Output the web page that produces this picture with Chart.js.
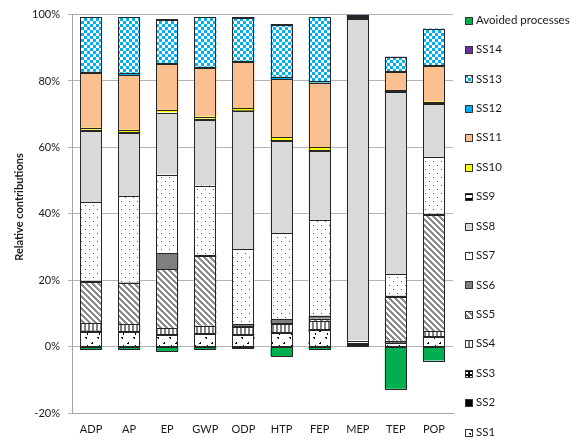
<!DOCTYPE html>
<html>
<head>
<meta charset="utf-8">
<script src="https://cdn.jsdelivr.net/npm/chart.js@4"></script>
<style>
html,body{margin:0;padding:0;background:#fff;}
canvas{display:block;}
</style>
</head>
<body>
<canvas id="c" width="581" height="441"></canvas>
<script>
const categories = ['ADP','AP','EP','GWP','ODP','HTP','FEP','MEP','TEP','POP'];
const yTicks = [-20, 0, 20, 40, 60, 80, 100];

const SS1  = [4.5, 4.5, 3.5, 3.9, 3.5, 4.2, 5.0, 0.6, 1.0, 2.8];
const SS2  = [0.2, 0.1, 0.1, 0.1, 0.1, 0.1, 0.1, 0.1, 0.1, 0.1];
const SS3  = [0.1, 0.1, 0.1, 0.1, 0.1, 0.1, 0.2, 0.0, 0.1, 0.2];
const SS4  = [2.2, 2.1, 1.8, 2.2, 2.3, 2.4, 2.3, 0.2, 0.6, 1.5];
const SS5  = [12.6, 12.3, 17.8, 20.9, 0.1, 0.2, 0.8, 0.1, 13.2, 35.1];
const SS6  = [0.2, 0.2, 4.8, 0.3, 0.7, 1.2, 0.9, 0.0, 0.3, 0.3];
const SS7  = [23.7, 26.0, 23.7, 21.0, 22.5, 25.9, 28.7, 0.8, 6.5, 17.0];
const SS8  = [21.5, 19.1, 18.5, 19.8, 41.6, 27.8, 20.8, 96.8, 54.8, 16.1];
const SS9  = [0.3, 0.2, 0.2, 0.3, 0.2, 0.3, 0.3, 0.2, 0.5, 0.2];
const SS10 = [0.6, 0.7, 0.8, 0.7, 0.7, 0.8, 1.0, 0.1, 0.2, 0.5];
const SS11 = [16.4, 16.5, 13.7, 14.5, 13.8, 17.6, 19.4, 0.4, 5.5, 10.7];
const SS12 = [0.5, 0.7, 0.5, 0.5, 0.5, 0.7, 0.4, 0.3, 0.2, 0.3];
const SS13 = [16.4, 16.7, 13.0, 14.9, 12.9, 15.7, 19.3, 0.3, 4.2, 11.0];
const SS14 = [0.1, 0.1, 0.1, 0.1, 0.3, 0.1, 0.1, 0.1, 0.1, 0.0];
const Avoided = [-0.8, -0.8, -1.4, -0.7, -0.5, -2.8, -0.8, 0, -12.7, -4.2];

const canvas = document.getElementById('c');
const mainCtx = canvas.getContext('2d');

function makePattern(w, h, draw) {
  const t = document.createElement('canvas');
  t.width = w; t.height = h;
  const x = t.getContext('2d');
  x.fillStyle = '#ffffff';
  x.fillRect(0, 0, w, h);
  draw(x, w, h);
  return mainCtx.createPattern(t, 'repeat');
}

const pConfetti = makePattern(12, 12, (x) => {
  x.fillStyle = '#000';
  x.fillRect(1, 1, 2, 1); x.fillRect(2, 2, 1, 1);
  x.fillRect(8, 6, 1, 1); x.fillRect(7, 7, 2, 1);
  x.fillRect(3, 9, 1, 2);
});
const pSS3 = makePattern(4, 4, (x) => {
  x.fillStyle = '#000';
  x.fillRect(0, 0, 4, 4);
  x.fillStyle = '#fff';
  x.fillRect(2, 0, 2, 2);
});
const pVert = makePattern(4, 1, (x) => {
  x.fillStyle = '#808080';
  x.fillRect(0, 0, 2, 1);
});
const pDiag = makePattern(6, 6, (x) => {
  x.fillStyle = '#8c8c8c';
  for (let i = 0; i < 6; i++) for (let j = 0; j < 6; j++) {
    if (((i - j + 60) % 6) < 3) x.fillRect(i, j, 1, 1);
  }
});
const pDots = makePattern(8, 8, (x) => {
  x.fillStyle = '#555';
  x.fillRect(1, 1, 1, 1);
  x.fillRect(5, 5, 1, 1);
});
const pHalf = makePattern(8, 6, (x) => {
  x.fillStyle = '#000';
  x.fillRect(0, 0, 8, 3);
});
const pChecker = makePattern(6, 6, (x) => {
  x.fillStyle = '#00b0f0';
  x.fillRect(0, 0, 3, 3);
  x.fillRect(3, 3, 3, 3);
});

const seriesDefs = [
  ['SS1', SS1, pConfetti],
  ['SS2', SS2, '#000000'],
  ['SS3', SS3, pSS3],
  ['SS4', SS4, pVert],
  ['SS5', SS5, pDiag],
  ['SS6', SS6, '#7f7f7f'],
  ['SS7', SS7, pDots],
  ['SS8', SS8, '#d9d9d9'],
  ['SS9', SS9, pHalf],
  ['SS10', SS10, '#ffff00'],
  ['SS11', SS11, '#fac090'],
  ['SS12', SS12, '#00b0f0'],
  ['SS13', SS13, pChecker],
  ['SS14', SS14, '#7030a0'],
  ['Avoided processes', Avoided, '#00b050']
];

const datasets = seriesDefs.map(([label, data, fill]) => ({
  label: label,
  data: data,
  backgroundColor: fill,
  borderWidth: 0,
  stack: 's',
  categoryPercentage: 1.0,
  barPercentage: 0.58
}));

const FONT = 'Lato, "Liberation Sans", sans-serif';

const outlines = {
  id: 'outlines',
  afterDatasetsDraw(chart) {
    const ctx = chart.ctx;
    ctx.save();
    ctx.strokeStyle = '#262626';
    ctx.lineWidth = 1;
    chart.data.datasets.forEach((d, di) => {
      const meta = chart.getDatasetMeta(di);
      meta.data.forEach((el, i) => {
        if (!d.data[i]) return;
        const l = Math.round(el.x - el.width / 2) + 0.5;
        const r = Math.round(el.x + el.width / 2) - 0.5;
        const t = Math.round(Math.min(el.y, el.base)) + 0.5;
        const b = Math.round(Math.max(el.y, el.base)) + 0.5;
        ctx.strokeRect(l, t, r - l, Math.max(b - t, 0));
      });
    });
    ctx.restore();
  }
};

const customDraw = {
  id: 'customDraw',
  afterDraw(chart) {
    const ctx = chart.ctx;
    ctx.save();
    ctx.translate(19, 207);
    ctx.rotate(-Math.PI / 2);
    ctx.font = 'bold 11px ' + FONT;
    ctx.fillStyle = '#1a1a1a';
    ctx.textAlign = 'center';
    ctx.textBaseline = 'middle';
    ctx.fillText('Relative contributions', 0, 0);
    ctx.restore();

    ctx.save();
    ctx.font = '11.5px ' + FONT;
    ctx.textBaseline = 'middle';
    ctx.textAlign = 'left';
    const ds = chart.data.datasets.slice().reverse();
    ds.forEach((d, i) => {
      const cy = 20 + i * 29.43;
      const bx = 465.5, by = Math.round(cy - 3.5) + 0.5;
      ctx.fillStyle = d.backgroundColor;
      ctx.fillRect(bx, by, 7, 7);
      ctx.strokeStyle = '#333';
      ctx.lineWidth = 1;
      ctx.strokeRect(bx, by, 7, 7);
      ctx.fillStyle = '#1a1a1a';
      ctx.fillText(d.label, 476, cy);
    });
    ctx.restore();
  }
};

new Chart(mainCtx, {
  type: 'bar',
  data: { labels: categories, datasets: datasets },
  options: {
    responsive: false,
    devicePixelRatio: 1,
    animation: false,
    layout: { padding: { top: 13, right: 128, left: 0, bottom: 0 } },
    plugins: {
      legend: { display: false },
      tooltip: { enabled: false },
      title: { display: false }
    },
    scales: {
      x: {
        stacked: true,
        grid: { display: false, drawTicks: false },
        border: { display: true, color: '#a6a6a6', width: 1 },
        ticks: { padding: 10, color: '#1a1a1a', font: { family: FONT, size: 11 } },
        afterFit(scale) { scale.height = 28; }
      },
      y: {
        stacked: true,
        min: -20,
        max: 100,
        afterBuildTicks(scale) { scale.ticks = yTicks.map(v => ({ value: v })); },
        grid: { color: '#b3b3b3', lineWidth: 1, tickLength: 4, drawTicks: true },
        border: { display: true, color: '#a6a6a6', width: 1 },
        ticks: {
          padding: 8,
          color: '#1a1a1a',
          font: { family: FONT, size: 11 },
          callback: (v) => v + '%'
        },
        afterFit(scale) { scale.width = 72; }
      }
    }
  },
  plugins: [outlines, customDraw]
});
</script>
</body>
</html>
